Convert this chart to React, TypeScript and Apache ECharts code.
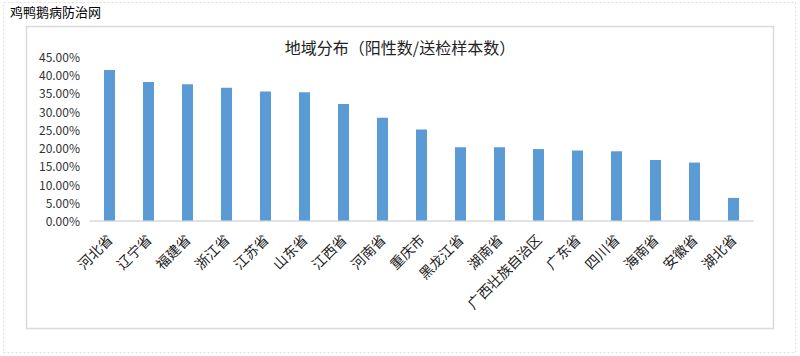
import React, { useEffect, useRef } from "react";
import * as echarts from "echarts";

const categories = [
  "河北省", "辽宁省", "福建省", "浙江省", "江苏省", "山东省", "江西省", "河南省", "重庆市",
  "黑龙江省", "湖南省", "广西壮族自治区", "广东省", "四川省", "海南省", "安徽省", "湖北省",
];
const positiveRate = [41.3, 38.0, 37.4, 36.4, 35.4, 35.2, 32.0, 28.2, 25.0, 20.1, 20.1, 19.6, 19.2, 19.0, 16.6, 15.9, 6.2];
const chartTitle = "地域分布（阳性数/送检样本数）";
const siteName = "鸡鸭鹅病防治网";

const FONT = "'Noto Sans CJK SC', 'Noto Sans', sans-serif";

export default function App() {
  const ref = useRef<HTMLDivElement>(null);
  useEffect(() => {
    if (!ref.current) return;
    const chart = echarts.init(ref.current, null, { renderer: "svg" });
    chart.setOption({
      animation: false,
      backgroundColor: "#ffffff",
      textStyle: { fontFamily: FONT },
      title: {
        text: chartTitle,
        left: 395,
        top: 34,
        textAlign: "center",
        textStyle: { fontSize: 16, fontWeight: "normal", color: "#222", fontFamily: FONT },
      },
      graphic: [
        {
          type: "rect",
          shape: { x: 3.5, y: 2.5, width: 792, height: 350 },
          style: { fill: "none", stroke: "#dcdcdc", lineWidth: 1, lineDash: [2, 2] },
          silent: true,
        },
        {
          type: "rect",
          shape: { x: 26.5, y: 26.5, width: 747, height: 302 },
          style: { fill: "none", stroke: "#d9d9d9", lineWidth: 1.5 },
          silent: true,
        },
        {
          type: "text",
          left: 10,
          top: 5,
          style: { text: siteName, fontSize: 13, fill: "#000", fontFamily: FONT },
        },
      ],
      grid: { left: 90, right: 47, top: 56.5, bottom: 135.5, containLabel: false },
      xAxis: {
        type: "category",
        data: categories,
        axisLine: { show: true, lineStyle: { color: "#d9d9d9", width: 1.5 } },
        axisTick: { show: false },
        axisLabel: {
          interval: 0,
          rotate: 45,
          margin: 16,
          fontSize: 14,
          color: "#222",
          fontFamily: FONT,
        },
      },
      yAxis: {
        type: "value",
        min: 0,
        max: 45,
        interval: 5,
        axisLine: { show: false },
        axisTick: { show: false },
        splitLine: { show: false },
        axisLabel: {
          margin: 10,
          fontSize: 12,
          color: "#333",
          fontFamily: FONT,
          formatter: (v: number) => v.toFixed(2) + "%",
        },
      },
      series: [
        {
          type: "bar",
          data: positiveRate,
          barWidth: 11,
          itemStyle: { color: "#5b9bd5" },
        },
      ],
    });
    return () => chart.dispose();
  }, []);
  return (
    <div
      ref={ref}
      style={{ position: "fixed", left: 0, top: 0, width: 800, height: 356 }}
    />
  );
}
